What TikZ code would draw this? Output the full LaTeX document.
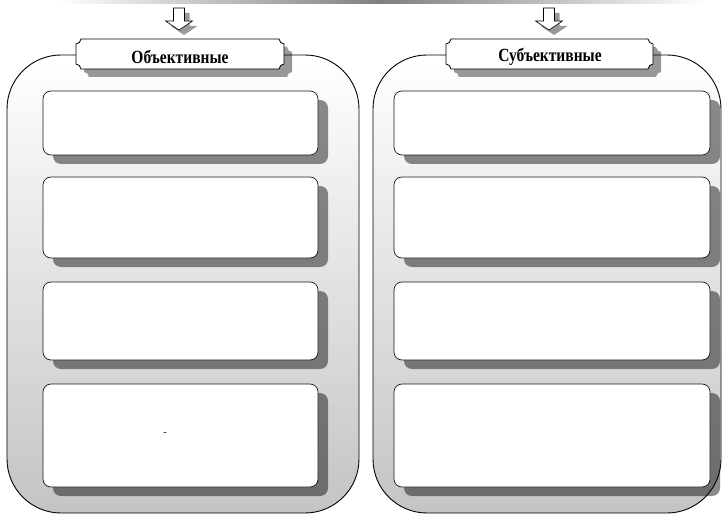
\documentclass[tikz,border=0pt]{standalone}
\usepackage{fontspec}
\setmainfont{Liberation Serif}
\usetikzlibrary{shadows}
\tikzset{
  containerline/.style={draw=black, line width=0.9pt, rounded corners=54pt},
  innerbox/.style={draw=black!90, line width=0.7pt, fill=white, rounded corners=8pt, inner sep=0pt,
    drop shadow={shadow xshift=10pt, shadow yshift=-9pt, opacity=0.45, fill=black}},
  tagshape/.style={draw=black, line width=0.8pt, fill=white},
  tagshadow/.style={fill=black, opacity=0.4},
  tagtext/.style={font=\fontsize{15.5}{17}\selectfont\bfseries, inner sep=0pt, yscale=1.2},
  arrowshape/.style={draw=black, line width=0.6pt, fill=white},
}
\begin{document}
\begin{tikzpicture}[x=1pt,y=-1pt]
\useasboundingbox (0,0) rectangle (723,516);
% top bar
\shade[left color=white, right color=white, middle color=black!50] (57,0) rectangle (706,4);
% containers with vertical gradient
\foreach \xa/\xb in {7/359, 373/721}{
  \begin{scope}
    \clip[rounded corners=54pt] (\xa,55) rectangle (\xb,513);
    \foreach \i in {0,...,45}{
      \pgfmathsetmacro{\pc}{23*\i/45}
      \fill[black!\pc] (\xa-2,55+\i*10) rectangle (\xb+2,55+\i*10+11);
    }
  \end{scope}
  \path[containerline] (\xa,55) rectangle (\xb,513);
}
% arrows
\foreach \cx in {179,549}{
  \fill[black, opacity=0.4, shift={(5,5)}] (\cx-5.5,8) -- (\cx+5.5,8) -- (\cx+5.5,21) -- (\cx+13.5,21) -- (\cx,30) -- (\cx-13.5,21) -- (\cx-5.5,21) -- cycle;
  \draw[arrowshape] (\cx-5.5,8) -- (\cx+5.5,8) -- (\cx+5.5,21) -- (\cx+13.5,21) -- (\cx,30) -- (\cx-13.5,21) -- (\cx-5.5,21) -- cycle;
}
% tags
\foreach \xa/\xb in {76/284, 446/653}{
  \def\ya{39}\def\yb{69}
  \fill[tagshadow, shift={(8,8)}] (\xa+5,\ya) -- (\xb-5,\ya) .. controls (\xb-5,\ya+2.76) and (\xb-2.24,\ya+5) .. (\xb,\ya+5) -- (\xb,\yb-5) .. controls (\xb-2.24,\yb-5) and (\xb-5,\yb-2.76) .. (\xb-5,\yb) -- (\xa+5,\yb) .. controls (\xa+5,\yb-2.76) and (\xa+2.24,\yb-5) .. (\xa,\yb-5) -- (\xa,\ya+5) .. controls (\xa+2.24,\ya+5) and (\xa+5,\ya+2.76) .. (\xa+5,\ya) -- cycle;
  \draw[tagshape] (\xa+5,\ya) -- (\xb-5,\ya) .. controls (\xb-5,\ya+2.76) and (\xb-2.24,\ya+5) .. (\xb,\ya+5) -- (\xb,\yb-5) .. controls (\xb-2.24,\yb-5) and (\xb-5,\yb-2.76) .. (\xb-5,\yb) -- (\xa+5,\yb) .. controls (\xa+5,\yb-2.76) and (\xa+2.24,\yb-5) .. (\xa,\yb-5) -- (\xa,\ya+5) .. controls (\xa+2.24,\ya+5) and (\xa+5,\ya+2.76) .. (\xa+5,\ya) -- cycle;
}
\node[tagtext] (obj) at (180,57) {Объективные};
\node[tagtext] (subj) at (550,57) {Субъективные};
% inner boxes left
\node[innerbox, minimum width=275pt, minimum height=64pt] (l1) at (180.5,123) {};
\node[innerbox, minimum width=275pt, minimum height=81pt] (l2) at (180.5,217.5) {};
\node[innerbox, minimum width=275pt, minimum height=78pt] (l3) at (180.5,321) {};
\node[innerbox, minimum width=275pt, minimum height=103pt] (l4) at (180.5,435.5) {};
% inner boxes right
\node[innerbox, minimum width=316pt, minimum height=64pt] (r1) at (552,123) {};
\node[innerbox, minimum width=316pt, minimum height=81pt] (r2) at (552,217.5) {};
\node[innerbox, minimum width=316pt, minimum height=78pt] (r3) at (552,321) {};
\node[innerbox, minimum width=316pt, minimum height=103pt] (r4) at (552,435.5) {};
\node[font=\fontsize{10}{12}\selectfont] (dash) at (165,434) {-};
\end{tikzpicture}
\end{document}
